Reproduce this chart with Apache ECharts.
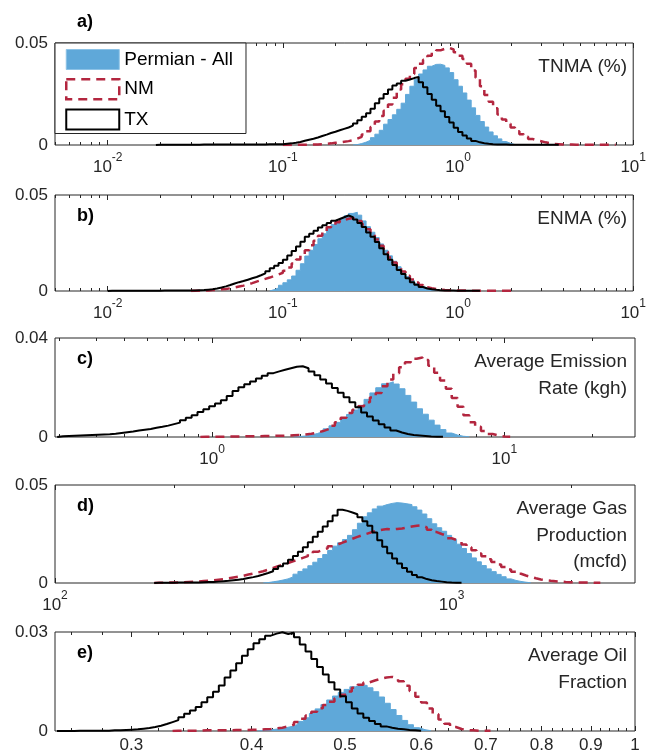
<!DOCTYPE html>
<html>
<head>
<meta charset="utf-8">
<script src="https://cdn.jsdelivr.net/npm/echarts@6/dist/echarts.min.js"></script>
<style>
  html, body { margin: 0; padding: 0; background: #fff; }
  #main { width: 649px; height: 754px; }
</style>
</head>
<body>
<div id="main"></div>
<script>
// histogram bin width (in decades, log10) for each panel
const binWidth = [0.025, 0.025, 0.02, 0.0125, 0.006];

// every series: log10 of its first bin edge + probability in each bin
// a) TNMA (%)
const tnmaPermian = { start: -0.60, values: [0.0002, 0.0007, 0.0014, 0.0023, 0.0036, 0.0053, 0.0072, 0.0102, 0.0125, 0.0148, 0.0175, 0.0205, 0.0248, 0.0288, 0.0322, 0.0348, 0.0368, 0.0386, 0.0395, 0.0396, 0.039, 0.0378, 0.0355, 0.032, 0.0288, 0.0255, 0.022, 0.0182, 0.0145, 0.0115, 0.0088, 0.0064, 0.0045, 0.003, 0.0017, 0.0008, 0.0002] };
const tnmaNM = { start: -1.00, values: [0, 0, 0.0001, 0.0001, 0.0001, 0.0002, 0.0002, 0.0003, 0.0004, 0.0006, 0.0008, 0.0011, 0.0013, 0.0016, 0.0019, 0.0023, 0.0031, 0.004, 0.0052, 0.0068, 0.0088, 0.0115, 0.0142, 0.0168, 0.0198, 0.0232, 0.0272, 0.0298, 0.0325, 0.0348, 0.0378, 0.0398, 0.0418, 0.0438, 0.0453, 0.0464, 0.0472, 0.0476, 0.0468, 0.0455, 0.0438, 0.0422, 0.0398, 0.0365, 0.033, 0.0288, 0.0245, 0.0212, 0.018, 0.015, 0.0125, 0.0104, 0.0086, 0.0068, 0.0053, 0.004, 0.003, 0.0023, 0.0018, 0.0013, 0.0009, 0.0005, 0.0004, 0.0003, 0.0002, 0.0002, 0.0001, 0.0001, 0.0001, 0.0001, 0.0001, 0.0001, 0.0001, 0.0001, 0.0001, 0.0001] };
const tnmaTX = { start: -1.725, values: [0.0001, 0.0001, 0.0001, 0.0001, 0.0001, 0.0001, 0.0001, 0.0001, 0.0001, 0.0001, 0.0002, 0.0002, 0.0002, 0.0002, 0.0002, 0.0002, 0.0002, 0.0002, 0.0002, 0.0002, 0.0003, 0.0003, 0.0003, 0.0003, 0.0003, 0.0004, 0.0004, 0.0004, 0.0004, 0.0006, 0.0008, 0.0011, 0.0015, 0.0021, 0.0026, 0.0031, 0.0037, 0.0044, 0.0051, 0.0059, 0.0065, 0.0072, 0.0079, 0.0086, 0.0095, 0.0106, 0.0121, 0.0138, 0.0156, 0.0178, 0.0205, 0.0228, 0.025, 0.0272, 0.0292, 0.0302, 0.0315, 0.0321, 0.0328, 0.0334, 0.0308, 0.0283, 0.025, 0.0222, 0.0192, 0.0165, 0.0137, 0.011, 0.0085, 0.0064, 0.0047, 0.0032, 0.002, 0.0013, 0.0009, 0.0006, 0.0004, 0.0003, 0.0002, 0.0002, 0.0001, 0.0001, 0.0001, 0.0001, 0.0001, 0.0001, 0.0001, 0.0001, 0.0001, 0.0001, 0.0001, 0.0001] };

// b) ENMA (%)
const enmaPermian = { start: -1.075, values: [0.0007, 0.0016, 0.003, 0.0043, 0.0058, 0.0078, 0.0108, 0.0142, 0.0182, 0.0212, 0.0242, 0.0272, 0.0298, 0.0327, 0.0346, 0.0362, 0.0378, 0.0392, 0.0404, 0.041, 0.0395, 0.0365, 0.0335, 0.0306, 0.0278, 0.0245, 0.0212, 0.0183, 0.0155, 0.0126, 0.0098, 0.0075, 0.0055, 0.0038, 0.0024, 0.0014, 0.0007, 0.0003] };
const enmaNM = { start: -1.525, values: [0.0001, 0.0001, 0.0002, 0.0003, 0.0005, 0.0006, 0.0009, 0.0011, 0.0014, 0.0018, 0.0023, 0.0028, 0.0034, 0.0041, 0.0049, 0.0056, 0.0063, 0.007, 0.0078, 0.0086, 0.0095, 0.0106, 0.0122, 0.0143, 0.0164, 0.0188, 0.0212, 0.0238, 0.0262, 0.0288, 0.031, 0.0332, 0.0345, 0.0358, 0.0369, 0.0376, 0.038, 0.0375, 0.0364, 0.0346, 0.0322, 0.0296, 0.0268, 0.0236, 0.0205, 0.0175, 0.0148, 0.0126, 0.0102, 0.008, 0.006, 0.0044, 0.0031, 0.002, 0.0014, 0.001, 0.0007, 0.0005, 0.0004, 0.0003, 0.0003, 0.0002, 0.0002, 0.0001, 0.0001, 0.0001, 0.0001, 0.0001, 0.0001, 0.0001, 0.0001, 0.0001, 0.0001, 0.0001] };
const enmaTX = { start: -2.00, values: [0.0001, 0.0001, 0.0001, 0.0001, 0.0001, 0.0001, 0.0001, 0.0001, 0.0001, 0.0001, 0.0001, 0.0001, 0.0002, 0.0002, 0.0002, 0.0002, 0.0002, 0.0002, 0.0003, 0.0003, 0.0004, 0.0005, 0.0007, 0.0009, 0.0013, 0.0018, 0.0024, 0.0031, 0.0039, 0.0046, 0.0052, 0.0059, 0.0066, 0.0073, 0.0082, 0.0092, 0.0103, 0.0118, 0.0132, 0.0146, 0.0163, 0.0185, 0.0208, 0.0232, 0.0257, 0.0282, 0.0298, 0.0314, 0.0331, 0.0342, 0.0354, 0.0366, 0.0375, 0.0384, 0.0393, 0.0385, 0.0372, 0.0354, 0.0333, 0.0305, 0.0282, 0.0255, 0.0223, 0.0192, 0.0163, 0.0136, 0.011, 0.0088, 0.0066, 0.0046, 0.0032, 0.0021, 0.0013, 0.0009, 0.0006, 0.0004, 0.0003, 0.0002, 0.0002, 0.0001, 0.0001, 0.0001, 0.0001, 0.0001, 0.0001] };

// c) Average Emission Rate (kgh)
const aerPermian = { start: 0.28, values: [0.0002, 0.0004, 0.0008, 0.0014, 0.0022, 0.0033, 0.0045, 0.0059, 0.0074, 0.0091, 0.0109, 0.0128, 0.0152, 0.0178, 0.0199, 0.0215, 0.0223, 0.0214, 0.0195, 0.0168, 0.0141, 0.0114, 0.0092, 0.0068, 0.0048, 0.003, 0.0016, 0.0008, 0.0003, 0.0001] };
const aerNM = { start: -0.04, values: [0.0001, 0.0001, 0.0001, 0.0001, 0.0002, 0.0002, 0.0002, 0.0003, 0.0003, 0.0003, 0.0004, 0.0004, 0.0005, 0.0005, 0.0006, 0.0007, 0.0008, 0.001, 0.0013, 0.0018, 0.0024, 0.0032, 0.0045, 0.006, 0.0078, 0.0097, 0.011, 0.0124, 0.014, 0.016, 0.0178, 0.0205, 0.0232, 0.0258, 0.0282, 0.0302, 0.0316, 0.0321, 0.0311, 0.0288, 0.026, 0.0228, 0.0195, 0.0158, 0.0122, 0.0088, 0.006, 0.0041, 0.0024, 0.0012, 0.0006, 0.0002, 0.0001] };
const aerTX = { start: -0.53, values: [0.0003, 0.0004, 0.0005, 0.0006, 0.0007, 0.0008, 0.0009, 0.001, 0.0011, 0.0013, 0.0016, 0.0019, 0.0022, 0.0026, 0.0029, 0.0032, 0.0037, 0.0041, 0.0046, 0.0052, 0.0058, 0.0068, 0.0078, 0.0088, 0.0101, 0.0112, 0.0124, 0.0135, 0.0148, 0.0166, 0.0186, 0.0201, 0.0213, 0.0224, 0.0236, 0.0247, 0.0258, 0.0265, 0.0272, 0.0278, 0.0284, 0.0286, 0.0278, 0.0265, 0.0249, 0.0232, 0.0216, 0.0198, 0.0179, 0.0161, 0.014, 0.012, 0.0099, 0.0083, 0.0067, 0.0052, 0.0038, 0.0026, 0.0018, 0.0012, 0.0008, 0.0006, 0.0004, 0.0002, 0.0001, 0.0001] };

// d) Average Gas Production (mcfd)
const agpPermian = { start: 2.525, values: [0.0002, 0.0006, 0.001, 0.0015, 0.0021, 0.0031, 0.0045, 0.0059, 0.0072, 0.0088, 0.0106, 0.0125, 0.0145, 0.0166, 0.0188, 0.0205, 0.0222, 0.0243, 0.0272, 0.0305, 0.0338, 0.0358, 0.0378, 0.0392, 0.04, 0.0406, 0.041, 0.0408, 0.0404, 0.04, 0.0389, 0.0372, 0.0352, 0.0328, 0.0302, 0.0282, 0.0264, 0.0243, 0.0222, 0.0198, 0.0176, 0.015, 0.0128, 0.0108, 0.0089, 0.0072, 0.0058, 0.0044, 0.0032, 0.0021, 0.0013, 0.0008, 0.0004, 0.0001] };
const agpNM = { start: 2.25, values: [0.0001, 0.0001, 0.0002, 0.0002, 0.0003, 0.0004, 0.0005, 0.0006, 0.0008, 0.001, 0.0012, 0.0014, 0.0017, 0.002, 0.0024, 0.0028, 0.0032, 0.0037, 0.0043, 0.0048, 0.0054, 0.006, 0.0068, 0.0077, 0.0086, 0.0094, 0.0102, 0.0111, 0.0119, 0.0128, 0.0137, 0.0148, 0.0159, 0.0168, 0.0177, 0.0188, 0.0196, 0.0206, 0.0216, 0.0226, 0.0235, 0.0244, 0.0252, 0.026, 0.0268, 0.0272, 0.0275, 0.0273, 0.0276, 0.0278, 0.0283, 0.0288, 0.0292, 0.0294, 0.0284, 0.0272, 0.026, 0.025, 0.0241, 0.0228, 0.022, 0.021, 0.0197, 0.0182, 0.0167, 0.0151, 0.0137, 0.0121, 0.0107, 0.0094, 0.0082, 0.0069, 0.0058, 0.0047, 0.0038, 0.0031, 0.0024, 0.0018, 0.0014, 0.0011, 0.0009, 0.0007, 0.0005, 0.0004, 0.0003, 0.0003, 0.0002, 0.0002, 0.0001, 0.0001] };
const agpTX = { start: 2.25, values: [0.0001, 0.0001, 0.0001, 0.0001, 0.0002, 0.0002, 0.0002, 0.0003, 0.0003, 0.0004, 0.0005, 0.0005, 0.0007, 0.0009, 0.0011, 0.0014, 0.0017, 0.002, 0.0025, 0.003, 0.0036, 0.0043, 0.0051, 0.006, 0.0072, 0.0086, 0.01, 0.0118, 0.0138, 0.016, 0.0183, 0.0208, 0.0236, 0.0262, 0.0288, 0.0315, 0.0345, 0.0374, 0.0368, 0.036, 0.0351, 0.0335, 0.0315, 0.0292, 0.0258, 0.0218, 0.0185, 0.0152, 0.0125, 0.0099, 0.0076, 0.0057, 0.0041, 0.0029, 0.002, 0.0014, 0.001, 0.0007, 0.0004, 0.0002, 0.0001, 0.0001] };

// e) Average Oil Fraction
const aofPermian = { start: -0.392, values: [0.0001, 0.0003, 0.0005, 0.0007, 0.001, 0.0014, 0.002, 0.0029, 0.004, 0.0053, 0.0067, 0.008, 0.0094, 0.0106, 0.0117, 0.0126, 0.0134, 0.014, 0.0138, 0.0131, 0.0119, 0.0103, 0.0084, 0.0065, 0.0047, 0.0032, 0.0019, 0.001, 0.0004, 0.0001] };
const aofNM = { start: -0.48, values: [0.0001, 0.0001, 0.0001, 0.0001, 0.0001, 0.0002, 0.0002, 0.0002, 0.0002, 0.0002, 0.0003, 0.0003, 0.0003, 0.0004, 0.0004, 0.0005, 0.0006, 0.0008, 0.001, 0.0014, 0.0019, 0.0027, 0.0037, 0.0047, 0.0058, 0.0069, 0.0079, 0.0089, 0.0099, 0.011, 0.012, 0.0131, 0.014, 0.0147, 0.0153, 0.0158, 0.0162, 0.0164, 0.016, 0.0151, 0.0137, 0.0121, 0.0104, 0.0086, 0.0068, 0.0051, 0.0035, 0.0022, 0.0012, 0.0006, 0.0003, 0.0002, 0.0001, 0.0001, 0.0001] };
const aofTX = { start: -0.60, values: [0, 0, 0, 0.0001, 0.0001, 0.0001, 0.0001, 0.0001, 0.0001, 0.0002, 0.0002, 0.0003, 0.0004, 0.0005, 0.0007, 0.0009, 0.0012, 0.0016, 0.0021, 0.0027, 0.0033, 0.0042, 0.0052, 0.0062, 0.0073, 0.0087, 0.0102, 0.0119, 0.0138, 0.0162, 0.0183, 0.0205, 0.0228, 0.0248, 0.0266, 0.0278, 0.0289, 0.0295, 0.0299, 0.0294, 0.0298, 0.0284, 0.0262, 0.0241, 0.0218, 0.0194, 0.0171, 0.0148, 0.0126, 0.0105, 0.0087, 0.0068, 0.0053, 0.004, 0.003, 0.0021, 0.0014, 0.001, 0.0007, 0.0005, 0.0003, 0.0002, 0.0001] };

// axes
const xMin = [0.005, 0.005, 0.29, 100, 0.25];
const xMax = [10, 10, 28, 2900, 1];
const yMax = [0.05, 0.05, 0.04, 0.05, 0.03];
const majorTicks = [
  [0.01, 0.1, 1, 10],
  [0.01, 0.1, 1, 10],
  [1, 10],
  [100, 1000],
  [0.3, 0.4, 0.5, 0.6, 0.7, 0.8, 0.9, 1]
];
const oilMinorTicks = [0.26, 0.28, 0.32, 0.34, 0.36, 0.38, 0.42, 0.44, 0.46, 0.48, 0.52, 0.54, 0.56, 0.58,
  0.62, 0.64, 0.66, 0.68, 0.72, 0.74, 0.76, 0.78, 0.82, 0.84, 0.86, 0.88, 0.92, 0.94, 0.96, 0.98];

const panelLabels = ['a)', 'b)', 'c)', 'd)', 'e)'];
const panelTitles = [
  ['TNMA (%)'],
  ['ENMA (%)'],
  ['Average Emission', 'Rate (kgh)'],
  ['Average Gas', 'Production', '(mcfd)'],
  ['Average Oil', 'Fraction']
];
const seriesNames = ['Permian - All', 'NM', 'TX'];
const panelSeries = [
  [tnmaPermian, tnmaNM, tnmaTX],
  [enmaPermian, enmaNM, enmaTX],
  [aerPermian, aerNM, aerTX],
  [agpPermian, agpNM, agpTX],
  [aofPermian, aofNM, aofTX]
];

const FONT = 'Arial, "Liberation Sans", sans-serif';
const AXIS = '#262626';
const BLUE = '#5fa8d9';
const RED = '#b3263f';
const gridTop = [43, 195, 338, 485, 632];
const gridHeight = [102, 96, 99, 98, 99];

// 2..9 x 10^k inside [lo, hi]
function decadeMinors(lo, hi) {
  const out = [];
  for (let e = Math.floor(Math.log10(lo)); e <= Math.ceil(Math.log10(hi)); e++) {
    for (let m = 2; m <= 9; m++) {
      const v = m * Math.pow(10, e);
      if (v >= lo * 0.999 && v <= hi * 1.001) out.push(v);
    }
  }
  return out;
}

// histogram outline as a stepped line
function stairs(s, w) {
  const n = s.values.length;
  const edge = i => Math.pow(10, s.start + i * w);
  const pts = [[edge(0), 0]];
  s.values.forEach((v, i) => pts.push([edge(i), v]));
  pts.push([edge(n), s.values[n - 1]]);
  pts.push([edge(n), 0]);
  return pts;
}

const powLabel = v => '{b|10}{s|' + Math.round(Math.log10(v)) + '}';
const plainLabel = v => String(+v.toFixed(2));

const grids = [], xAxes = [], yAxes = [], series = [], graphics = [];

for (let i = 0; i < 5; i++) {
  grids.push({
    left: 55, right: 14, top: gridTop[i], height: gridHeight[i],
    show: true, borderColor: AXIS, borderWidth: 1, backgroundColor: 'transparent'
  });

  const minors = i === 4 ? oilMinorTicks : decadeMinors(xMin[i], xMax[i]);
  const base = {
    type: 'log', logBase: 10, min: xMin[i], max: xMax[i], gridIndex: i,
    axisLine: { show: false, onZero: false },
    splitLine: { show: false }, minorTick: { show: false }
  };
  const tick = (vals, len) => ({ show: true, inside: true, length: len, customValues: vals, lineStyle: { color: AXIS, width: 1 } });

  xAxes.push(Object.assign({}, base, {
    position: 'bottom',
    axisTick: tick(majorTicks[i], 5),
    axisLabel: {
      customValues: majorTicks[i],
      formatter: i === 4 ? plainLabel : powLabel,
      margin: i === 4 ? 6 : 7,
      color: AXIS, fontFamily: FONT, fontSize: 17,
      rich: {
        b: { fontSize: 17, fontFamily: FONT, color: AXIS, lineHeight: 24, verticalAlign: 'bottom' },
        s: { fontSize: 12, fontFamily: FONT, color: AXIS, lineHeight: 24, verticalAlign: 'top' }
      }
    }
  }));
  xAxes.push(Object.assign({}, base, { position: 'top', axisTick: tick(majorTicks[i], 5), axisLabel: { show: false } }));
  xAxes.push(Object.assign({}, base, { position: 'bottom', axisTick: tick(minors, 3), axisLabel: { show: false } }));
  xAxes.push(Object.assign({}, base, { position: 'top', axisTick: tick(minors, 3), axisLabel: { show: false } }));

  yAxes.push({
    type: 'value', gridIndex: i, min: 0, max: yMax[i], interval: yMax[i],
    axisLine: { show: false }, axisTick: { show: false }, splitLine: { show: false },
    axisLabel: { color: AXIS, fontFamily: FONT, fontSize: 17, margin: 7 }
  });

  const [perm, nm, tx] = panelSeries[i];
  const w = binWidth[i];
  series.push({
    name: seriesNames[0], type: 'line', xAxisIndex: 4 * i, yAxisIndex: i,
    data: stairs(perm, w), step: 'end', symbol: 'none', silent: true,
    lineStyle: { color: BLUE, width: 1 }, itemStyle: { color: BLUE },
    areaStyle: { color: BLUE, opacity: 1 }, z: 1
  });
  series.push({
    name: seriesNames[1], type: 'line', xAxisIndex: 4 * i, yAxisIndex: i,
    data: stairs(nm, w), step: 'end', symbol: 'none', silent: true,
    lineStyle: { color: RED, width: 2.5, type: [9, 6] }, itemStyle: { color: RED }, z: 2
  });
  series.push({
    name: seriesNames[2], type: 'line', xAxisIndex: 4 * i, yAxisIndex: i,
    data: stairs(tx, w), step: 'end', symbol: 'none', silent: true,
    lineStyle: { color: '#000', width: 2 }, itemStyle: { color: '#000' }, z: 3
  });

  const top = gridTop[i];
  graphics.push({
    type: 'text', x: 77, y: i === 0 ? 22 : top + 21, silent: true,
    style: { text: panelLabels[i], font: 'bold 18px ' + FONT, fill: '#000', align: 'left', verticalAlign: 'middle' }
  });
  graphics.push({
    type: 'text', x: 627, y: top + 11, silent: true,
    style: { text: panelTitles[i].join('\n'), font: '19px ' + FONT, fill: AXIS, align: 'right', verticalAlign: 'top', lineHeight: 26.5 }
  });
}

const chart = echarts.init(document.getElementById('main'));
chart.setOption({
  animation: false,
  backgroundColor: '#fff',
  textStyle: { fontFamily: FONT },
  grid: grids,
  xAxis: xAxes,
  yAxis: yAxes,
  series: series,
  graphic: graphics,
  legend: {
    left: 55, top: 43, orient: 'vertical', selectedMode: false,
    itemWidth: 53, itemHeight: 20, itemGap: 8,
    padding: [6, 13, 3, 10],
    backgroundColor: '#fff', borderColor: AXIS, borderWidth: 1, borderRadius: 0,
    textStyle: { fontSize: 19, color: '#000', fontFamily: FONT },
    data: [
      { name: 'Permian - All', icon: 'rect', itemStyle: { color: BLUE, borderColor: '#8cc2e6', borderWidth: 1 } },
      { name: 'NM', icon: 'rect', itemStyle: { color: '#fff', borderColor: RED, borderWidth: 2.5, borderType: [9, 6] } },
      { name: 'TX', icon: 'rect', itemStyle: { color: '#fff', borderColor: '#000', borderWidth: 2 } }
    ]
  }
});
</script>
</body>
</html>
